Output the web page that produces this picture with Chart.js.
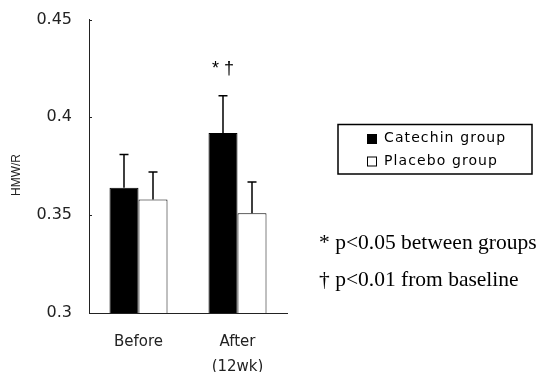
<!DOCTYPE html>
<html>
<head>
<meta charset="utf-8">
<script src="https://cdn.jsdelivr.net/npm/chart.js@4"></script>
<style>
  html, body { margin: 0; padding: 0; background: #fff; }
  #wrap { width: 546px; height: 372px; }
</style>
</head>
<body>
<div id="wrap"><canvas id="hmwChart" width="546" height="372"></canvas></div>
<script>
const categories = ["Before", ["After", "(12wk)"]];
const seriesNames = ["Catechin group", "Placebo group"];
const catechinValues = [0.364, 0.392];
const placeboValues = [0.358, 0.351];
const catechinErrors = [0.017, 0.019];
const placeboErrors = [0.014, 0.016];
const yTicks = [0.3, 0.35, 0.4, 0.45];
const yTitle = "HMW/R";
const footnotes = ["* p<0.05 between groups", "\u2020 p<0.01 from baseline"];
const significance = { dataset: 0, index: 1, text: "* \u2020" };

// error bars (upper only), inward y ticks, y title, legend box, notes
const extrasPlugin = {
  id: "extras",
  afterDatasetsDraw(chart) {
    const ctx = chart.ctx;
    const y = chart.scales.y;
    const area = chart.chartArea;
    ctx.save();
    ctx.strokeStyle = "#000";
    ctx.lineWidth = 1.5;
    chart.data.datasets.forEach((ds, di) => {
      chart.getDatasetMeta(di).data.forEach((bar, i) => {
        const top = y.getPixelForValue(ds.data[i] + ds.errors[i]);
        ctx.beginPath();
        ctx.moveTo(bar.x, bar.y);
        ctx.lineTo(bar.x, top);
        ctx.moveTo(bar.x - 4.5, top);
        ctx.lineTo(bar.x + 4.5, top);
        ctx.stroke();
      });
    });

    ctx.lineWidth = 1;
    ctx.strokeStyle = "#222";
    yTicks.forEach(v => {
      const py = Math.round(y.getPixelForValue(v)) + 0.5;
      ctx.beginPath();
      ctx.moveTo(area.left, py);
      ctx.lineTo(area.left + 3, py);
      ctx.stroke();
    });

    // rotated axis title, sits a bit below the middle of the axis
    ctx.save();
    ctx.translate(17, 175);
    ctx.rotate(-Math.PI / 2);
    ctx.fillStyle = "#222";
    ctx.font = "12px 'Liberation Sans Narrow', 'Liberation Sans', Arial";
    ctx.textAlign = "center";
    ctx.textBaseline = "middle";
    ctx.fillText(yTitle, 0, 0);
    ctx.restore();

    // significance marks over the bar
    const sBar = chart.getDatasetMeta(significance.dataset).data[significance.index];
    const sds = chart.data.datasets[significance.dataset];
    const sTop = y.getPixelForValue(sds.data[significance.index] + sds.errors[significance.index]);
    ctx.fillStyle = "#000";
    ctx.font = "18px 'Liberation Sans', Arial";
    ctx.textAlign = "center";
    ctx.textBaseline = "middle";
    ctx.fillText(significance.text, sBar.x, sTop - 27);

    // legend
    const lx = 338, ly = 124.5, lw = 194, lh = 49.5;
    ctx.lineWidth = 1.5;
    ctx.strokeStyle = "#000";
    ctx.strokeRect(lx, ly, lw, lh);
    ctx.font = "14px 'DejaVu Sans'";
    ctx.textAlign = "left";
    ctx.letterSpacing = "1.1px";
    chart.data.datasets.forEach((ds, di) => {
      const cy = ly + 14 + di * 22.5;
      ctx.fillStyle = ds.backgroundColor;
      ctx.fillRect(367, cy - 4.5, 9, 9);
      ctx.lineWidth = 1;
      ctx.strokeRect(367.5, cy - 4, 9, 9);
      ctx.fillStyle = "#000";
      ctx.fillText(ds.label, 384, cy);
    });
    ctx.letterSpacing = "0px";

    ctx.font = "21.5px 'Liberation Serif', 'Times New Roman', serif";
    footnotes.forEach((t, i) => ctx.fillText(t, 319, 243 + i * 37));
    ctx.restore();
  }
};

new Chart(document.getElementById("hmwChart"), {
  type: "bar",
  data: {
    labels: categories,
    datasets: [
      { label: seriesNames[0], data: catechinValues, errors: catechinErrors, backgroundColor: "#000", borderColor: "#000", borderWidth: 1 },
      { label: seriesNames[1], data: placeboValues, errors: placeboErrors, backgroundColor: "#fff", borderColor: "#000", borderWidth: 1 }
    ]
  },
  options: {
    responsive: false,
    animation: false,
    devicePixelRatio: 1,
    layout: { padding: { top: 19.5, right: 259, bottom: 0, left: 0 } },
    datasets: { bar: { categoryPercentage: 0.586, barPercentage: 1 } },
    plugins: { legend: { display: false }, tooltip: { enabled: false } },
    scales: {
      x: {
        grid: { display: false, drawTicks: false },
        border: { color: "#222", width: 1 },
        ticks: { color: "#222", padding: 17, font: { family: "DejaVu Sans", size: 15, lineHeight: 1.65 } },
        afterFit: s => { s.height = 59; }
      },
      y: {
        min: 0.3,
        max: 0.45,
        grid: { display: false, drawTicks: false },
        border: { color: "#222", width: 1 },
        afterBuildTicks: s => { s.ticks = yTicks.map(v => ({ value: v })); },
        ticks: {
          color: "#222",
          padding: 17,
          font: { family: "DejaVu Sans", size: 16 },
          callback: v => String(+v.toFixed(2))
        },
        afterFit: s => { s.width = 89; s.paddingTop = 0; s.paddingBottom = 0; }
      }
    }
  },
  plugins: [extrasPlugin]
});
</script>
</body>
</html>
